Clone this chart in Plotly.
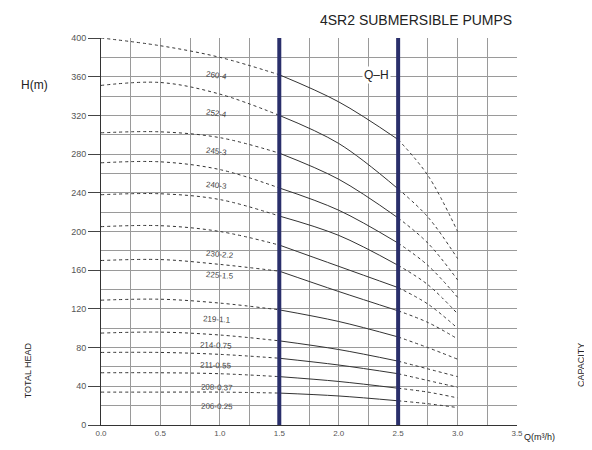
import plotly.graph_objects as go

q = [0, 0.5, 1.0, 1.5, 2.0, 2.5, 2.75, 3.0]

# head (m) for each pump model, read at the flow points above
h_260_4 = [400, 392, 380, 362, 334, 295, 258, 200]
h_252_4 = [351, 354, 342, 320, 291, 244, 215, 172]
h_245_3 = [302, 303, 297, 281, 254, 214, 188, 150]
h_240_3 = [271, 272, 264, 245, 222, 188, 165, 132]
h_hidden = [238, 239, 233, 216, 196, 165, 145, 115]  # label hidden on the original
h_230_22 = [205, 206, 200, 186, 164, 142, 125, 100]
h_225_15 = [170, 171, 166, 159, 138, 118, 106, 89]
h_219_11 = [129, 130, 126, 119, 107, 91, 80, 68]
h_214_075 = [95, 96, 93, 87, 78, 66, 58, 50]
h_211_055 = [75, 75, 73, 69, 62, 53, 46, 39]
h_208_037 = [54, 54, 53, 50, 45, 38, 34, 28]
h_206_025 = [34, 34, 34, 33, 30, 25, 22, 18]

curves = [h_260_4, h_252_4, h_245_3, h_240_3, h_hidden, h_230_22,
          h_225_15, h_219_11, h_214_075, h_211_055, h_208_037, h_206_025]

labels = ["260-4", "252-4", "245-3", "240-3", "230-2.2", "225-1.5",
          "219-1.1", "214-0.75", "211-0.55", "208-0.37", "206-0.25"]
label_q = [0.97, 0.97, 0.97, 0.97, 1.0, 1.0, 0.98, 0.97, 0.97, 0.98, 0.98]
label_h = [361, 322, 283, 248, 176, 155, 109, 82, 61, 39, 19]
label_ang = [8, 8, 7, 6, 5, 4, 3, 2, 2, 2, 1]

duty_q = [1.5, 2.5]

ink = "#333333"
txt = dict(color="#222", family="Liberation Sans")
fig = go.Figure()

for h in curves:
    # dashed below 1.5, solid in the duty range, dashed after 2.5
    fig.add_trace(go.Scatter(x=q[:4], y=h[:4], mode="lines", line_shape="spline",
                             line=dict(color=ink, width=1, dash="3px,3px")))
    fig.add_trace(go.Scatter(x=q[3:6], y=h[3:6], mode="lines", line_shape="spline",
                             line=dict(color=ink, width=1)))
    fig.add_trace(go.Scatter(x=q[5:], y=h[5:], mode="lines", line_shape="spline",
                             line=dict(color=ink, width=1, dash="3px,3px")))

for lab, lq, lh, ang in zip(labels, label_q, label_h, label_ang):
    fig.add_annotation(x=lq, y=lh, text=lab, showarrow=False, textangle=ang,
                       font=dict(size=8, color="#444", family="Liberation Sans"))

for dq in duty_q:
    fig.add_vline(x=dq, line=dict(color="#2a2f6b", width=4))

fig.add_annotation(x=2.32, y=362, text="Q\u2013H", showarrow=False, bgcolor="white",
                   font=dict(size=12, **txt))

# outer texts, all centred on their spot
outer = [
    ("4SR2 SUBMERSIBLE PUMPS", 0.757, 1.047, 0, 14),
    ("H(m)", -0.159, 0.879, 0, 12),
    ("TOTAL HEAD", -0.175, 0.142, -90, 9),
    ("CAPACITY", 1.154, 0.155, -90, 9),
    ("Q(m\u00b3/h)", 1.055, -0.031, 0, 9),
]
for t, px, py, ang, sz in outer:
    fig.add_annotation(x=px, y=py, xref="paper", yref="paper", xanchor="center",
                       yanchor="middle", text=t, textangle=ang, showarrow=False,
                       font=dict(size=sz, **txt))

fig.update_xaxes(range=[0, 3.5], dtick=0.5, tick0=0, tickformat=".1f",
                 showgrid=True, gridcolor="#9a9a9a", gridwidth=1,
                 minor=dict(dtick=0.25, showgrid=True, gridcolor="#9a9a9a", gridwidth=1),
                 showline=True, linecolor="#333", linewidth=1, zeroline=False,
                 ticks="", tickfont=dict(size=8, color="#555", family="Liberation Sans"))
fig.update_yaxes(range=[0, 400], dtick=40, tick0=0,
                 showgrid=True, gridcolor="#9a9a9a", gridwidth=1,
                 minor=dict(dtick=20, showgrid=True, gridcolor="#9a9a9a", gridwidth=1),
                 showline=True, linecolor="#333", linewidth=1, zeroline=False,
                 ticks="outside", ticklen=12, tickcolor="#444",
                 tickfont=dict(size=9, color="#555", family="Liberation Sans"))

# page body adds an 8px margin, so the figure is a little smaller than the window
fig.update_layout(width=584, height=442, showlegend=False,
                  paper_bgcolor="white", plot_bgcolor="white",
                  margin=dict(l=93, r=75, t=30, b=25))

fig.write_html("out.html")
